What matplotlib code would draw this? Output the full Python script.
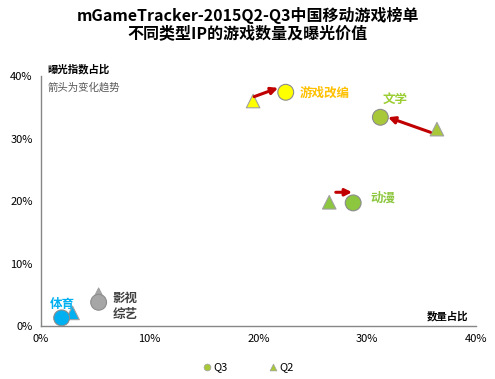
import matplotlib.pyplot as plt
from matplotlib.ticker import FuncFormatter

plt.rcParams['font.family'] = ['Noto Sans CJK SC', 'DejaVu Sans']

# IP types, share of games (x, %) and share of exposure (y, %)
ip_names = ['游戏改编', '文学', '动漫', '体育', '影视综艺']
q3_x = [22.5, 31.2, 28.7, 1.9, 5.3]
q3_y = [37.4, 33.4, 19.7, 1.3, 3.8]
q2_x = [19.5, 36.4, 26.5, 2.9, 5.3]
q2_y = [36.0, 31.5, 19.8, 2.1, 5.0]

fill_colors = ['#FFFF00', '#A8C83A', '#8DC63F', '#00B0F0', '#A6A6A6']
tri_colors = ['#FFFF00', '#A8C83A', '#8DC63F', '#00B0F0', '#A6A6A6']
text_colors = ['#FFC000', '#9ACD32', '#8DC63F', '#00B0F0', '#404040']

fig = plt.figure(figsize=(4.95, 3.79), dpi=100)
ax = fig.add_axes([0.0828, 0.1398, 0.879, 0.6596])

ax.scatter(q2_x, q2_y, marker='^', s=95, c=tri_colors, edgecolors='#A0A0A0', linewidths=0.8, zorder=3)
ax.scatter(q3_x, q3_y, marker='o', s=130, c=fill_colors, edgecolors='#8C8C8C', linewidths=0.8, zorder=4)

# trend arrows (Q2 -> Q3)
arrow = dict(arrowstyle='-|>', color='#C00000', lw=2.2, mutation_scale=10, shrinkA=0, shrinkB=0)
ax.annotate('', xy=(21.8, 38.1), xytext=(19.6, 36.7), arrowprops=arrow, zorder=5)
ax.annotate('', xy=(31.9, 33.4), xytext=(35.8, 31.0), arrowprops=arrow, zorder=5)
ax.annotate('', xy=(28.6, 21.4), xytext=(27.1, 21.4), arrowprops=arrow, zorder=5)

# labels
ax.text(23.8, 37.3, ip_names[0], color=text_colors[0], fontsize=9, fontweight='bold', va='center')
ax.text(31.4, 36.2, ip_names[1], color=text_colors[1], fontsize=9, fontweight='bold', va='center')
ax.text(30.3, 20.5, ip_names[2], color=text_colors[2], fontsize=9, fontweight='bold', va='center')
ax.text(0.8, 3.4, ip_names[3], color=text_colors[3], fontsize=9, fontweight='bold', va='center')
ax.text(6.6, 4.5, '影视', color=text_colors[4], fontsize=9, fontweight='bold', va='center')
ax.text(6.6, 1.9, '综艺', color=text_colors[4], fontsize=9, fontweight='bold', va='center')

ax.text(0.6, 41.1, '曝光指数占比', fontsize=7.5, fontweight='bold', va='center')
ax.text(0.6, 38.2, '箭头为变化趋势', fontsize=7.5, color='#595959', va='center')
ax.text(39.3, 1.6, '数量占比', fontsize=7.5, fontweight='bold', ha='right', va='center')

ax.set_xlim(0, 40)
ax.set_ylim(0, 40)
ax.set_xticks([0, 10, 20, 30, 40])
ax.set_yticks([0, 10, 20, 30, 40])
pct = FuncFormatter(lambda v, p: '%d%%' % v)
ax.xaxis.set_major_formatter(pct)
ax.yaxis.set_major_formatter(pct)
ax.tick_params(length=0, labelsize=8, pad=6)
for side in ['top', 'right']:
    ax.spines[side].set_visible(False)
for side in ['left', 'bottom']:
    ax.spines[side].set_color('#868686')
    ax.spines[side].set_linewidth(1.0)

# legend
h3 = ax.scatter([], [], marker='o', s=24, c='#A8C83A', edgecolors='#A0A0A0', linewidths=0.5)
h2 = ax.scatter([], [], marker='^', s=24, c='#A8C83A', edgecolors='#A0A0A0', linewidths=0.5)
fig.legend([h3, h2], ['Q3', 'Q2'], loc='center', bbox_to_anchor=(0.5, 0.032), ncol=2,
           frameon=False, fontsize=8, handletextpad=0.1, columnspacing=3.6, handlelength=1.0)

fig.suptitle('mGameTracker-2015Q2-Q3中国移动游戏榜单\n不同类型IP的游戏数量及曝光价值',
             fontsize=11.5, fontweight='bold', y=0.983, linespacing=1.1)

fig.savefig('out.png', dpi=100)
